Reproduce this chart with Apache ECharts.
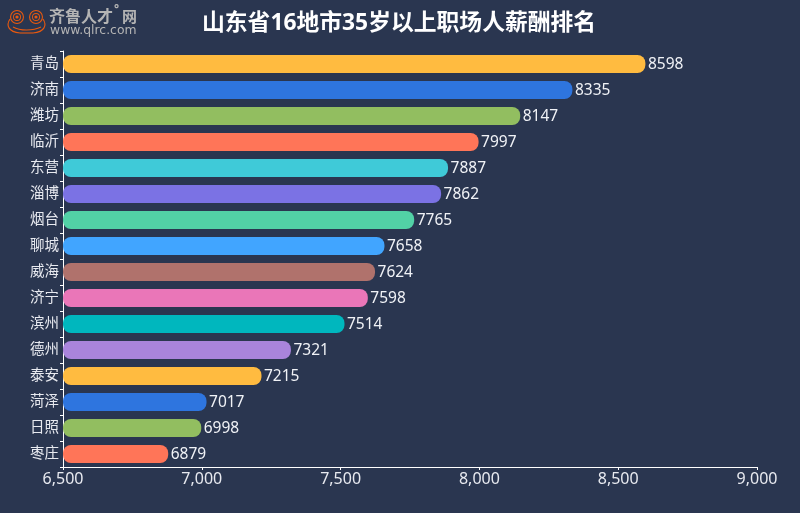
<!DOCTYPE html>
<html><head><meta charset="utf-8">
<style>html,body{margin:0;padding:0;background:#2a3650}#c{width:800px;height:513px}</style>
<script src="https://cdn.jsdelivr.net/npm/echarts@6/dist/echarts.min.js"></script></head>
<body><div id="c"></div>
<script>
const cities = ['青岛','济南','潍坊','临沂','东营','淄博','烟台','聊城','威海','济宁','滨州','德州','泰安','菏泽','日照','枣庄'];
const salaries = [8598,8335,8147,7997,7887,7862,7765,7658,7624,7598,7514,7321,7215,7017,6998,6879];
const palette = ['#ffbb40','#2e75df','#92be60','#ff7558','#3fcad8','#7b72e4','#52d1a6','#41a5ff','#b0726c','#ea76b8','#00b7be','#a984dc'];
const FONT = '"Noto Sans","Noto Sans CJK SC",sans-serif';
const chart = echarts.init(document.getElementById('c'), null, {renderer:'canvas'});
const orange = '#e8590f';
const stroke = {fill:'none',stroke:orange,lineWidth:1.1};
const logo = [
  {type:'ring', shape:{cx:17,cy:17,r:7,r0:5.9}, style:{fill:orange}},
  {type:'ring', shape:{cx:36,cy:17,r:7,r0:5.9}, style:{fill:orange}},
  {type:'ring', shape:{cx:17,cy:17,r:4,r0:3.1}, style:{fill:orange}},
  {type:'ring', shape:{cx:36,cy:17,r:4,r0:3.1}, style:{fill:orange}},
  {type:'circle', shape:{cx:17,cy:17,r:1.6}, style:{fill:orange}},
  {type:'circle', shape:{cx:36,cy:17,r:1.6}, style:{fill:orange}},
  {type:'bezierCurve', shape:{x1:10,y1:19,cpx1:6,cpy1:25,cpx2:8,cpy2:32,x2:20,y2:33}, style:stroke},
  {type:'bezierCurve', shape:{x1:43,y1:19,cpx1:47,cpy1:25,cpx2:45,cpy2:32,x2:33,y2:33}, style:stroke},
  {type:'line', shape:{x1:20,y1:33,x2:33,y2:33}, style:{stroke:orange,lineWidth:1.1}},
  {type:'bezierCurve', shape:{x1:13,y1:27,cpx1:20,cpy1:31,cpx2:33,cpy2:31,x2:41,y2:27}, style:stroke},
  {type:'text', x:49, y:8, style:{text:'齐鲁人才',fill:'#b4b4b4',font:'bold 16px "Noto Sans CJK SC"'}},
  {type:'text', x:114, y:4, style:{text:'°',fill:'#b4b4b4',font:'bold 12px "Noto Sans"'}},
  {type:'text', x:122, y:9, style:{text:'网',fill:'#b4b4b4',font:'bold 15px "Noto Sans CJK SC"'}},
  {type:'text', x:50, y:25, style:{text:'www.qlrc.com',fill:'#b4b4b4',font:'12.4px "DejaVu Sans"'}}
];
chart.setOption({
  backgroundColor:'#2a3650',
  animation:false,
  textStyle:{fontFamily:FONT},
  title:{text:'山东省16地市35岁以上职场人薪酬排名',left:197,top:7,
    textStyle:{color:'#fff',fontSize:22.8,fontWeight:'bold',fontFamily:FONT}},
  grid:{left:63,right:43,top:51,bottom:46,containLabel:false},
  xAxis:{type:'value',min:6500,max:9000,interval:500,
    axisLine:{show:true,lineStyle:{color:'#fff',width:1}},
    axisTick:{show:true,length:3,lineStyle:{color:'#fff'}},
    splitLine:{show:false},
    axisLabel:{color:'#e8eaf0',fontSize:16,margin:4,
      formatter:v=>v.toLocaleString('en-US')}},
  yAxis:{type:'category',inverse:true,data:cities,
    axisLine:{show:true,lineStyle:{color:'#fff',width:1}},
    axisTick:{show:true,length:3,lineStyle:{color:'#fff'}},
    axisLabel:{color:'#e8eaf0',fontSize:14.5,margin:4}},
  series:[{type:'bar',barWidth:18,data:salaries,
    itemStyle:{borderRadius:8,color:p=>palette[p.dataIndex%palette.length]},
    label:{show:true,position:'right',distance:2.5,offset:[0,1],color:'#f0f2f6',fontSize:15.5}}],
  graphic:{elements:logo}
});
</script></body></html>
